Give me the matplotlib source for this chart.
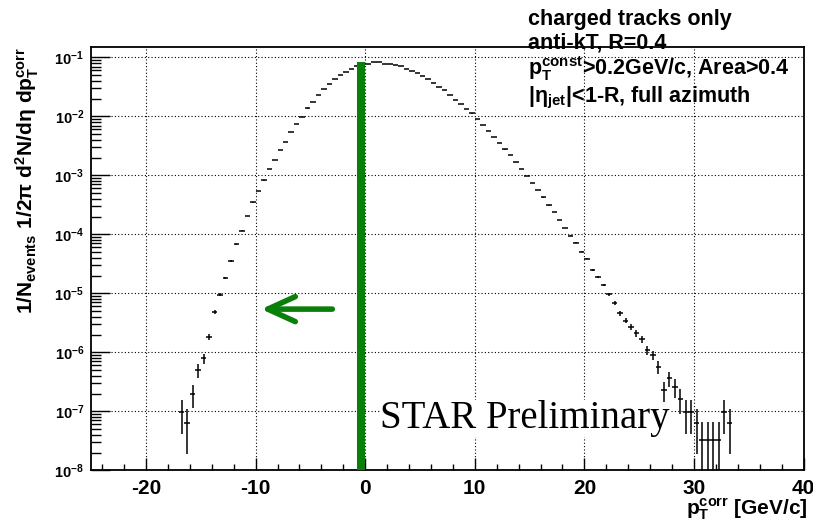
import matplotlib
matplotlib.use("Agg")
import matplotlib.pyplot as plt
import numpy as np
from matplotlib.ticker import LogLocator, MultipleLocator, NullFormatter

plt.rcParams["font.family"] = ["Liberation Sans", "DejaVu Sans"]
plt.rcParams["font.weight"] = "bold"
plt.rcParams["mathtext.fontset"] = "custom"
plt.rcParams["mathtext.rm"] = "Liberation Sans:bold"
plt.rcParams["mathtext.it"] = "Liberation Sans:bold"
plt.rcParams["mathtext.bf"] = "Liberation Sans:bold"
plt.rcParams["mathtext.default"] = "bf"
plt.rcParams["axes.unicode_minus"] = False

# histogram binning (GeV/c)
bin_lo = -17.0
bin_width = 0.5

# 1/N dN/dpT per bin
yields = [
    # -16.75 .. -0.25
    9.84e-8, 6.46e-8, 1.95e-7, 5.01e-7, 7.94e-7, 1.84e-6, 4.90e-6, 9.55e-6,
    1.84e-5, 3.55e-5, 6.76e-5, 1.15e-4, 2.04e-4, 3.47e-4, 5.37e-4, 8.22e-4,
    1.29e-3, 1.84e-3, 2.69e-3, 3.72e-3, 5.42e-3, 7.50e-3, 9.84e-3, 1.36e-2,
    1.75e-2, 2.32e-2, 2.90e-2, 3.52e-2, 4.24e-2, 5.07e-2, 5.62e-2, 6.41e-2,
    7.13e-2, 7.59e-2,
    # 0.25 .. 10.25
    7.69e-2, 8.22e-2, 8.22e-2, 7.85e-2, 7.76e-2, 7.50e-2, 7.08e-2, 6.46e-2,
    5.86e-2, 5.36e-2, 4.89e-2, 4.24e-2, 3.72e-2, 3.18e-2, 2.79e-2, 2.32e-2,
    1.91e-2, 1.60e-2, 1.33e-2, 1.12e-2, 9.12e-3,
    # 10.75 .. 23.25
    7.13e-3, 5.64e-3, 4.46e-3, 3.52e-3, 2.75e-3, 2.21e-3, 1.68e-3, 1.29e-3,
    9.86e-4, 7.50e-4, 5.64e-4, 4.24e-4, 3.10e-4, 2.39e-4, 1.75e-4, 1.28e-4,
    9.46e-5, 7.21e-5, 5.07e-5, 3.86e-5, 2.51e-5, 1.87e-5, 1.38e-5, 9.72e-6,
    6.85e-6, 4.58e-6,
    # 23.75 .. 33.25
    3.44e-6, 2.72e-6, 2.10e-6, 1.66e-6, 1.09e-6, 8.99e-7, 5.70e-7, 2.30e-7,
    3.62e-7, 2.61e-7, 1.62e-7, 9.84e-8, 9.84e-8, 6.46e-8, 3.24e-8, 3.24e-8,
    3.24e-8, 3.24e-8, 9.84e-8, 6.46e-8,
]
one_count = 3.24e-8  # yield of a single entry, for Poisson errors

cut_x = -0.35
cut_top = 0.082
arrow_y = 5.4e-6
arrow_from, arrow_to = -3.0, -9.5

info_lines = [
    "charged tracks only",
    "anti-kT, R=0.4",
    r"$p_{T}^{const}$>0.2GeV/c, Area>0.4",
    r"|$\eta_{jet}$|<1-R, full azimuth",
]

W, H = 813, 528
green = "#0a800a"

y = np.array(yields)
x = bin_lo + bin_width * (np.arange(len(y)) + 0.5)
err = np.sqrt(y * one_count)
lo = np.maximum(y - err, 1e-12)

fig = plt.figure(figsize=(W / 100, H / 100), dpi=100)
ax = fig.add_axes([91.2 / W, 1 - 470.3 / H, 712.4 / W, (470.3 - 47) / H])

ax.errorbar(x, y, xerr=bin_width / 2, yerr=[y - lo, err], fmt="none",
            ecolor="black", elinewidth=1.1, capsize=0, zorder=3)

ax.plot([cut_x, cut_x], [1e-8, cut_top], color=green, lw=5.8,
        solid_capstyle="butt", zorder=4)
ax.annotate("", xy=(arrow_to, arrow_y), xytext=(arrow_from, arrow_y),
            arrowprops=dict(arrowstyle="->,head_length=1.1,head_width=0.5",
                            color=green, lw=4, mutation_scale=18,
                            shrinkA=0, shrinkB=0, capstyle="round",
                            joinstyle="round"),
            zorder=4)

ax.set_yscale("log")
ax.set_xlim(-25, 40)
ax.set_ylim(1e-8, 0.15)

ax.xaxis.set_major_locator(MultipleLocator(10))
ax.xaxis.set_minor_locator(MultipleLocator(2))
ax.yaxis.set_minor_locator(LogLocator(base=10, subs=np.arange(2, 10), numticks=20))
ax.yaxis.set_minor_formatter(NullFormatter())
ax.set_yticks([10.0 ** k for k in range(-8, 0)])
ax.set_yticklabels([r"$10^{%d}$" % k for k in range(-8, 0)])

ax.tick_params(axis="x", which="major", direction="in", length=9, width=1,
               labelsize=15, pad=6, top=False)
ax.tick_params(axis="x", which="minor", direction="in", length=4.3, width=1,
               top=False)
ax.tick_params(axis="y", which="major", direction="in", length=14, width=1,
               labelsize=10.5, pad=5, right=False)
ax.tick_params(axis="y", which="minor", direction="in", length=7, width=1,
               right=False)
for lab in ax.get_xticklabels():
    lab.set_fontweight("bold")

ax.grid(True, which="major", color="black", linestyle=(0, (1, 2)), lw=0.8)
ax.set_axisbelow(True)
for sp in ax.spines.values():
    sp.set_linewidth(1.3)

ax.text(380 / W, 1 - 428 / H, "STAR Preliminary", transform=fig.transFigure,
        family="Liberation Serif", fontweight="normal", fontsize=28,
        ha="left", va="baseline", zorder=2.5,
        bbox=dict(facecolor="white", edgecolor="none", pad=0))

fig.text(27 / W, 1 - 47 / H,
         r"$1/N_{events}\ 1/2\pi\ d^{2}N/d\eta\ dp_{T}^{corr}$",
         rotation=90, ha="center", va="top", fontsize=15)
fig.text(808 / W, 1 - 514 / H, r"$p_{T}^{corr}$ [GeV/c]",
         ha="right", va="baseline", fontsize=15)

for line, base in zip(info_lines, [25, 49, 75, 102]):
    fig.text(528 / W, 1 - base / H, line, ha="left", va="baseline", fontsize=15.5)

fig.savefig("out.png", dpi=100, facecolor="white")
